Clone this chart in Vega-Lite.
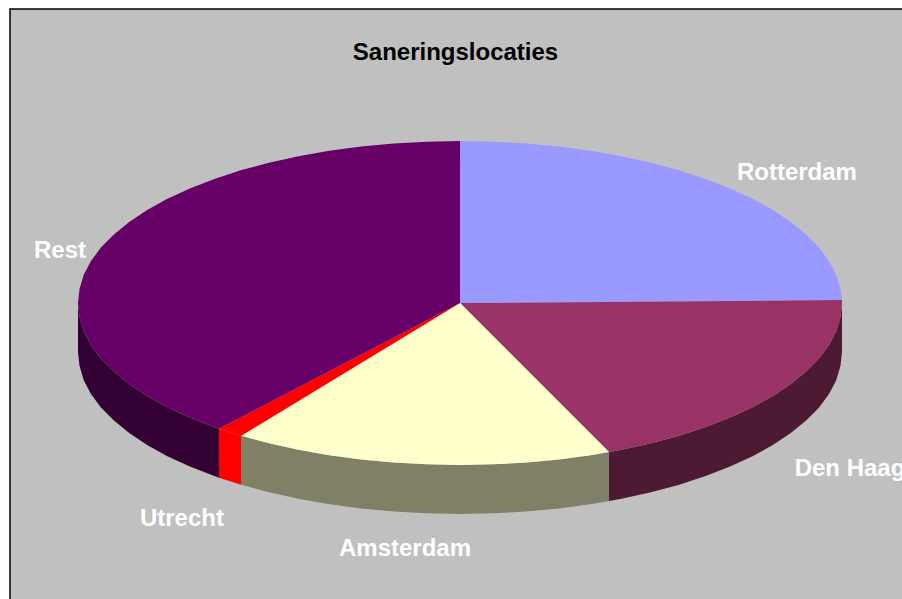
{"$schema":"https://vega.github.io/schema/vega-lite/v6.json","width":893,"height":591,"autosize":{"type":"none"},"padding":{"left":10,"top":9,"right":0,"bottom":0},"background":"#FFFFFF","view":{"fill":"#C0C0C0","stroke":"#000000","strokeWidth":1.5},"title":{"text":"Saneringslocaties","font":"Liberation Sans","fontSize":24,"fontWeight":"bold","color":"#000000","anchor":"middle","offset":-56,"dx":-1},"datasets":{"walls":[{"part":"Den Haag wall","x":1,"top":0,"bottom":-0.3025},{"part":"Den Haag wall","x":0.996,"top":-0.087,"bottom":-0.3895},{"part":"Den Haag wall","x":0.985,"top":-0.174,"bottom":-0.4765},{"part":"Den Haag wall","x":0.966,"top":-0.259,"bottom":-0.5615},{"part":"Den Haag wall","x":0.94,"top":-0.342,"bottom":-0.6445},{"part":"Den Haag wall","x":0.906,"top":-0.423,"bottom":-0.7255},{"part":"Den Haag wall","x":0.866,"top":-0.5,"bottom":-0.8025},{"part":"Den Haag wall","x":0.819,"top":-0.574,"bottom":-0.8765},{"part":"Den Haag wall","x":0.766,"top":-0.643,"bottom":-0.9455},{"part":"Den Haag wall","x":0.707,"top":-0.707,"bottom":-1.0095},{"part":"Den Haag wall","x":0.643,"top":-0.766,"bottom":-1.0685},{"part":"Den Haag wall","x":0.574,"top":-0.819,"bottom":-1.1215},{"part":"Den Haag wall","x":0.5,"top":-0.866,"bottom":-1.1685},{"part":"Den Haag wall","x":0.423,"top":-0.906,"bottom":-1.2085},{"part":"Den Haag wall","x":0.39,"top":-0.92,"bottom":-1.2225},{"part":"Amsterdam wall","x":0.39,"top":-0.92,"bottom":-1.2225},{"part":"Amsterdam wall","x":0.342,"top":-0.94,"bottom":-1.2425},{"part":"Amsterdam wall","x":0.259,"top":-0.966,"bottom":-1.2685},{"part":"Amsterdam wall","x":0.174,"top":-0.985,"bottom":-1.2875},{"part":"Amsterdam wall","x":0.087,"top":-0.996,"bottom":-1.2985},{"part":"Amsterdam wall","x":0,"top":-1,"bottom":-1.3025},{"part":"Amsterdam wall","x":-0.087,"top":-0.996,"bottom":-1.2985},{"part":"Amsterdam wall","x":-0.174,"top":-0.985,"bottom":-1.2875},{"part":"Amsterdam wall","x":-0.259,"top":-0.966,"bottom":-1.2685},{"part":"Amsterdam wall","x":-0.342,"top":-0.94,"bottom":-1.2425},{"part":"Amsterdam wall","x":-0.423,"top":-0.906,"bottom":-1.2085},{"part":"Amsterdam wall","x":-0.5,"top":-0.866,"bottom":-1.1685},{"part":"Amsterdam wall","x":-0.573,"top":-0.82,"bottom":-1.1225},{"part":"Utrecht wall","x":-0.573,"top":-0.82,"bottom":-1.1225},{"part":"Utrecht wall","x":-0.631,"top":-0.776,"bottom":-1.0785},{"part":"Rest wall","x":-0.631,"top":-0.776,"bottom":-1.0785},{"part":"Rest wall","x":-0.643,"top":-0.766,"bottom":-1.0685},{"part":"Rest wall","x":-0.707,"top":-0.707,"bottom":-1.0095},{"part":"Rest wall","x":-0.766,"top":-0.643,"bottom":-0.9455},{"part":"Rest wall","x":-0.819,"top":-0.574,"bottom":-0.8765},{"part":"Rest wall","x":-0.866,"top":-0.5,"bottom":-0.8025},{"part":"Rest wall","x":-0.906,"top":-0.423,"bottom":-0.7255},{"part":"Rest wall","x":-0.94,"top":-0.342,"bottom":-0.6445},{"part":"Rest wall","x":-0.966,"top":-0.259,"bottom":-0.5615},{"part":"Rest wall","x":-0.985,"top":-0.174,"bottom":-0.4765},{"part":"Rest wall","x":-0.996,"top":-0.087,"bottom":-0.3895},{"part":"Rest wall","x":-1,"top":0,"bottom":-0.3025}],"slices":[{"part":"Rotterdam","n":0,"x":0,"y":0},{"part":"Rotterdam","n":1,"x":0,"y":1},{"part":"Rotterdam","n":2,"x":0.087,"y":0.996},{"part":"Rotterdam","n":3,"x":0.174,"y":0.985},{"part":"Rotterdam","n":4,"x":0.259,"y":0.966},{"part":"Rotterdam","n":5,"x":0.342,"y":0.94},{"part":"Rotterdam","n":6,"x":0.423,"y":0.906},{"part":"Rotterdam","n":7,"x":0.5,"y":0.866},{"part":"Rotterdam","n":8,"x":0.574,"y":0.819},{"part":"Rotterdam","n":9,"x":0.643,"y":0.766},{"part":"Rotterdam","n":10,"x":0.707,"y":0.707},{"part":"Rotterdam","n":11,"x":0.766,"y":0.643},{"part":"Rotterdam","n":12,"x":0.819,"y":0.574},{"part":"Rotterdam","n":13,"x":0.866,"y":0.5},{"part":"Rotterdam","n":14,"x":0.906,"y":0.423},{"part":"Rotterdam","n":15,"x":0.94,"y":0.342},{"part":"Rotterdam","n":16,"x":0.966,"y":0.259},{"part":"Rotterdam","n":17,"x":0.985,"y":0.174},{"part":"Rotterdam","n":18,"x":0.996,"y":0.087},{"part":"Rotterdam","n":19,"x":1,"y":0.0185},{"part":"Den Haag","n":0,"x":0,"y":0},{"part":"Den Haag","n":1,"x":1,"y":0.0185},{"part":"Den Haag","n":2,"x":1,"y":0},{"part":"Den Haag","n":3,"x":0.996,"y":-0.087},{"part":"Den Haag","n":4,"x":0.985,"y":-0.174},{"part":"Den Haag","n":5,"x":0.966,"y":-0.259},{"part":"Den Haag","n":6,"x":0.94,"y":-0.342},{"part":"Den Haag","n":7,"x":0.906,"y":-0.423},{"part":"Den Haag","n":8,"x":0.866,"y":-0.5},{"part":"Den Haag","n":9,"x":0.819,"y":-0.574},{"part":"Den Haag","n":10,"x":0.766,"y":-0.643},{"part":"Den Haag","n":11,"x":0.707,"y":-0.707},{"part":"Den Haag","n":12,"x":0.643,"y":-0.766},{"part":"Den Haag","n":13,"x":0.574,"y":-0.819},{"part":"Den Haag","n":14,"x":0.5,"y":-0.866},{"part":"Den Haag","n":15,"x":0.423,"y":-0.906},{"part":"Den Haag","n":16,"x":0.39,"y":-0.92},{"part":"Amsterdam","n":0,"x":0,"y":0},{"part":"Amsterdam","n":1,"x":0.39,"y":-0.92},{"part":"Amsterdam","n":2,"x":0.342,"y":-0.94},{"part":"Amsterdam","n":3,"x":0.259,"y":-0.966},{"part":"Amsterdam","n":4,"x":0.174,"y":-0.985},{"part":"Amsterdam","n":5,"x":0.087,"y":-0.996},{"part":"Amsterdam","n":6,"x":0,"y":-1},{"part":"Amsterdam","n":7,"x":-0.087,"y":-0.996},{"part":"Amsterdam","n":8,"x":-0.174,"y":-0.985},{"part":"Amsterdam","n":9,"x":-0.259,"y":-0.966},{"part":"Amsterdam","n":10,"x":-0.342,"y":-0.94},{"part":"Amsterdam","n":11,"x":-0.423,"y":-0.906},{"part":"Amsterdam","n":12,"x":-0.5,"y":-0.866},{"part":"Amsterdam","n":13,"x":-0.573,"y":-0.82},{"part":"Utrecht","n":0,"x":0,"y":0},{"part":"Utrecht","n":1,"x":-0.573,"y":-0.82},{"part":"Utrecht","n":2,"x":-0.631,"y":-0.776},{"part":"Rest","n":0,"x":0,"y":0},{"part":"Rest","n":1,"x":-0.631,"y":-0.776},{"part":"Rest","n":2,"x":-0.643,"y":-0.766},{"part":"Rest","n":3,"x":-0.707,"y":-0.707},{"part":"Rest","n":4,"x":-0.766,"y":-0.643},{"part":"Rest","n":5,"x":-0.819,"y":-0.574},{"part":"Rest","n":6,"x":-0.866,"y":-0.5},{"part":"Rest","n":7,"x":-0.906,"y":-0.423},{"part":"Rest","n":8,"x":-0.94,"y":-0.342},{"part":"Rest","n":9,"x":-0.966,"y":-0.259},{"part":"Rest","n":10,"x":-0.985,"y":-0.174},{"part":"Rest","n":11,"x":-0.996,"y":-0.087},{"part":"Rest","n":12,"x":-1,"y":0},{"part":"Rest","n":13,"x":-0.996,"y":0.087},{"part":"Rest","n":14,"x":-0.985,"y":0.174},{"part":"Rest","n":15,"x":-0.966,"y":0.259},{"part":"Rest","n":16,"x":-0.94,"y":0.342},{"part":"Rest","n":17,"x":-0.906,"y":0.423},{"part":"Rest","n":18,"x":-0.866,"y":0.5},{"part":"Rest","n":19,"x":-0.819,"y":0.574},{"part":"Rest","n":20,"x":-0.766,"y":0.643},{"part":"Rest","n":21,"x":-0.707,"y":0.707},{"part":"Rest","n":22,"x":-0.643,"y":0.766},{"part":"Rest","n":23,"x":-0.574,"y":0.819},{"part":"Rest","n":24,"x":-0.5,"y":0.866},{"part":"Rest","n":25,"x":-0.423,"y":0.906},{"part":"Rest","n":26,"x":-0.342,"y":0.94},{"part":"Rest","n":27,"x":-0.259,"y":0.966},{"part":"Rest","n":28,"x":-0.174,"y":0.985},{"part":"Rest","n":29,"x":-0.087,"y":0.996},{"part":"Rest","n":30,"x":0,"y":1}],"labels":[{"label":"Rotterdam","x":0.882,"y":0.805},{"label":"Den Haag","x":1.021,"y":-1.025},{"label":"Amsterdam","x":-0.144,"y":-1.518},{"label":"Utrecht","x":-0.728,"y":-1.333},{"label":"Rest","x":-1.047,"y":0.321}]},"resolve":{"scale":{"fill":"shared"}},"layer":[{"data":{"name":"walls"},"mark":{"type":"area","opacity":1,"interpolate":"linear"},"encoding":{"x":{"field":"x","type":"quantitative","scale":{"domain":[-1.178,1.1597],"nice":false,"zero":false},"axis":null},"y":{"field":"top","type":"quantitative","scale":{"domain":[-1.8333,1.815],"nice":false,"zero":false},"axis":null},"y2":{"field":"bottom"},"detail":{"field":"part"},"fill":{"field":"part","type":"nominal","legend":null,"scale":{"domain":["Rotterdam","Den Haag","Amsterdam","Utrecht","Rest","Den Haag wall","Amsterdam wall","Utrecht wall","Rest wall"],"range":["#9999FF","#993366","#FFFFCC","#FF0000","#660066","#4D1A33","#808066","#FF0000","#330033"]}}}},{"data":{"name":"slices"},"mark":{"type":"line","filled":true,"strokeWidth":0,"interpolate":"linear-closed"},"encoding":{"x":{"field":"x","type":"quantitative","scale":{"domain":[-1.178,1.1597],"nice":false,"zero":false},"axis":null},"y":{"field":"y","type":"quantitative","scale":{"domain":[-1.8333,1.815],"nice":false,"zero":false},"axis":null},"order":{"field":"n","type":"quantitative"},"detail":{"field":"part"},"fill":{"field":"part","type":"nominal","legend":null}}},{"data":{"name":"labels"},"mark":{"type":"text","font":"Liberation Sans","fontSize":24,"fontWeight":"bold","color":"#FFFFFF","align":"center","baseline":"middle"},"encoding":{"x":{"field":"x","type":"quantitative","scale":{"domain":[-1.178,1.1597],"nice":false,"zero":false},"axis":null},"y":{"field":"y","type":"quantitative","scale":{"domain":[-1.8333,1.815],"nice":false,"zero":false},"axis":null},"text":{"field":"label","type":"nominal"}}}]}
